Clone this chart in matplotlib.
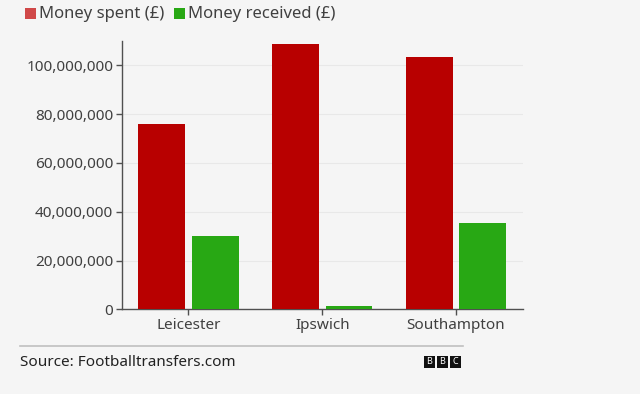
import numpy as np
import matplotlib.pyplot as plt
from matplotlib.patches import Rectangle
from matplotlib.lines import Line2D
from matplotlib.ticker import FuncFormatter

clubs = ['Leicester', 'Ipswich', 'Southampton']
spent = [76_000_000, 108_700_000, 103_400_000]
received = [30_000_000, 1_200_000, 35_400_000]
series_names = ['Money spent (£)', 'Money received (£)']

red = '#b80000'
green = '#28a814'
bg = '#f5f5f5'
txt = '#404040'

plt.rcParams['font.family'] = ['Noto Sans', 'DejaVu Sans']

fig = plt.figure(figsize=(6.4, 3.94), dpi=100, facecolor=bg)
ax = fig.add_axes([0.190, 0.215, 0.627, 0.681], facecolor=bg)

x = np.arange(len(clubs))
ax.bar(x - 0.2, spent, width=0.35, color=red, zorder=3)
ax.bar(x + 0.2, received, width=0.35, color=green, zorder=3)

ax.set_xlim(-0.5, 2.5)
ax.set_ylim(0, 110_000_000)
ax.set_yticks(np.arange(0, 100_000_001, 20_000_000))
ax.yaxis.set_major_formatter(FuncFormatter(lambda v, p: f'{int(v):,}'))
ax.set_xticks(x)
ax.set_xticklabels(clubs)
ax.grid(axis='y', color='#e8e8e8', linewidth=0.8, zorder=0)
for s in ['top', 'right']:
    ax.spines[s].set_visible(False)
for s in ['left', 'bottom']:
    ax.spines[s].set_color('#505050')
    ax.spines[s].set_linewidth(1.0)
ax.tick_params(axis='both', colors='#505050', labelcolor=txt, labelsize=11, length=4, width=1, pad=2)

# legend at top
fig.patches.append(Rectangle((25 / 640, 1 - 19 / 394), 11 / 640, 11 / 394,
                             transform=fig.transFigure, facecolor='#d04848', linewidth=0))
fig.text(39 / 640, 1 - 13.5 / 394, series_names[0], fontsize=12, color=txt, va='center')
fig.patches.append(Rectangle((174 / 640, 1 - 19 / 394), 11 / 640, 11 / 394,
                             transform=fig.transFigure, facecolor=green, linewidth=0))
fig.text(188 / 640, 1 - 13.5 / 394, series_names[1], fontsize=12, color=txt, va='center')

# footer
fig.lines.append(Line2D([20 / 640, 463 / 640], [1 - 345.5 / 394] * 2,
                        transform=fig.transFigure, color='#c0c0c0', linewidth=1.2))
fig.text(20 / 640, 1 - 363 / 394, 'Source: Footballtransfers.com', fontsize=11, color='#222222', va='center')
for i, ch in enumerate('BBC'):
    x0 = 424 + i * 13
    fig.patches.append(Rectangle((x0 / 640, 1 - 368 / 394), 11 / 640, 12 / 394,
                                 transform=fig.transFigure, facecolor='#111111', linewidth=0))
    fig.text((x0 + 5.5) / 640, 1 - 362 / 394, ch, fontsize=6.5, color='white',
             ha='center', va='center', fontweight='bold')

fig.savefig('out.png', dpi=100, facecolor=bg)
